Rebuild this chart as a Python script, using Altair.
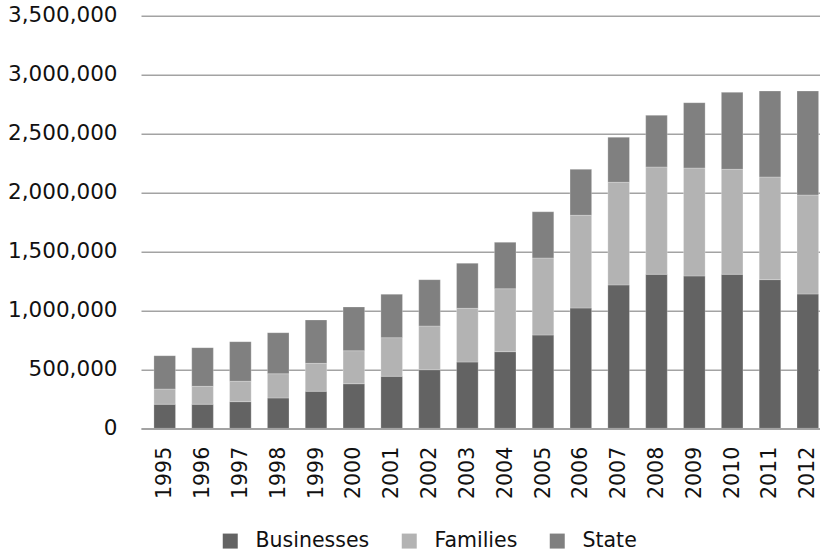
import altair as alt
import pandas as pd

# Contributions by sector, 1995-2012
years = list(range(1995, 2013))
businesses = [204000, 204000, 226000, 257000, 314000, 378000, 441000, 497000, 562000,
              650000, 791000, 1020000, 1216000, 1306000, 1292000, 1306000, 1261000, 1139000]
families = [129000, 152000, 173000, 206000, 237000, 280000, 328000, 371000, 456000,
            534000, 654000, 787000, 871000, 911000, 916000, 891000, 871000, 840000]
state = [283000, 328000, 336000, 348000, 368000, 371000, 368000, 393000, 382000,
         394000, 392000, 390000, 382000, 438000, 554000, 653000, 729000, 882000]

series = ["Businesses", "Families", "State"]
colors = ["#636363", "#b3b3b3", "#808080"]
y_ticks = list(range(0, 3500001, 500000))

rows = []
for name, vals in zip(series, [businesses, families, state]):
    for yr, v in zip(years, vals):
        rows.append({"year": yr, "sector": name, "value": v, "rank": series.index(name)})
df = pd.DataFrame(rows)

FONT = "DejaVu Sans"
GRID = "#a3a3a3"

chart = alt.Chart(df).mark_bar(size=21.6, clip=True, stroke="#ffffff", strokeWidth=0.4, strokeOpacity=0.6).encode(
    x=alt.X("year:Q",
            scale=alt.Scale(domain=[1994.505, 2012.19], nice=False, zero=False),
            axis=alt.Axis(values=years, format="d", labelAngle=-90, labelAlign="right",
                          labelBaseline="middle", labelPadding=18, ticks=False, tickSize=0,
                          grid=False, domain=True, domainColor=GRID, domainWidth=1.4,
                          labelOverlap=False, labelFlush=False, labelFont=FONT,
                          labelFontSize=20.5, labelColor="#111111", title=None)),
    y=alt.Y("value:Q", stack="zero",
            scale=alt.Scale(domain=[0, 3500000], nice=False),
            axis=alt.Axis(values=y_ticks, format=",.0f", ticks=False, tickSize=0, domain=False,
                          grid=True, gridColor=GRID, gridWidth=1.4, labelPadding=24,
                          labelFont=FONT, labelFontSize=21.5, labelColor="#111111", title=None)),
    color=alt.Color("sector:N",
                    scale=alt.Scale(domain=series, range=colors),
                    legend=alt.Legend(orient="none", legendX=79, legendY=515, direction="horizontal",
                                      title=None, symbolType="square", symbolSize=225,
                                      symbolStrokeWidth=0, labelFont=FONT, labelFontSize=20.5,
                                      labelColor="#111111", labelOffset=15, columnPadding=29,
                                      padding=0, labelLimit=300)),
    order=alt.Order("rank:Q", sort="ascending"),
).properties(
    width=679,
    height=412.6,
    autosize=alt.AutoSizeParams(type="none"),
    padding={"left": 141, "top": 15.7, "right": 0, "bottom": 123.7},
).configure(background="#ffffff").configure_view(stroke=None)

chart.save("out.html", embed_options={"renderer": "svg", "actions": False})
